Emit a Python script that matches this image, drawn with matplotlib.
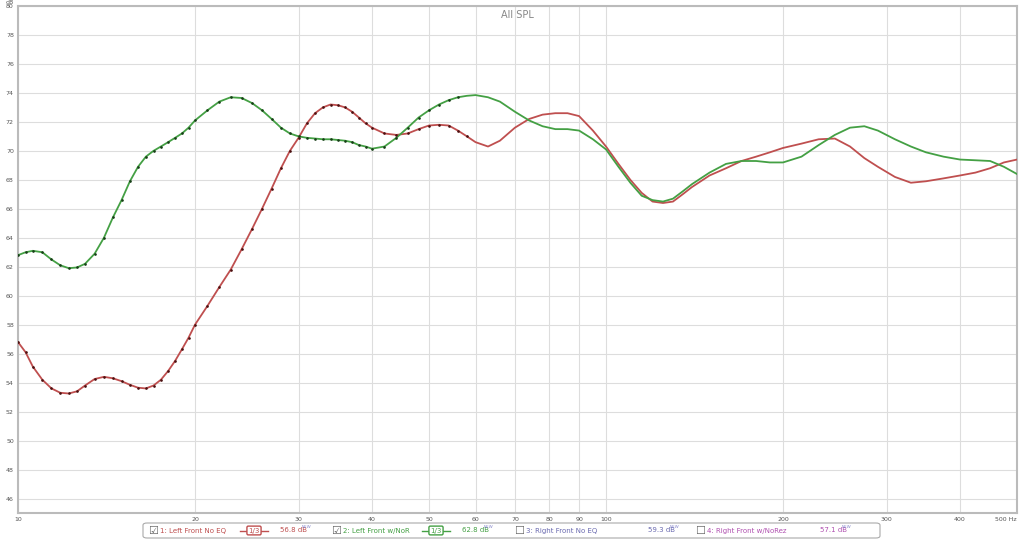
import numpy as np
import matplotlib
matplotlib.use("Agg")
import matplotlib.pyplot as plt
from matplotlib.patches import FancyBboxPatch
from matplotlib.lines import Line2D

# frequencies (Hz)
freq = [10, 10.3, 10.6, 11, 11.4, 11.8, 12.2, 12.6, 13, 13.5, 14, 14.5, 15, 15.5,
        16, 16.5, 17, 17.5, 18, 18.5, 19, 19.5, 20, 21, 22, 23, 24, 25, 26, 27,
        28, 29, 30, 31, 32, 33, 34, 35, 36, 37, 38, 39, 40, 42, 44, 46, 48, 50,
        52, 54, 56, 58, 60, 63, 66, 70, 74, 78, 82, 86, 90, 95, 100, 105, 110,
        115, 120, 125, 130, 135, 140, 150, 160, 170, 180, 190, 200, 215, 230,
        245, 260, 275, 290, 310, 330, 350, 375, 400, 425, 450, 475, 500]

left_no_eq = [56.8, 56.1, 55.1, 54.2, 53.6, 53.3, 53.25, 53.4, 53.8, 54.25, 54.4,
              54.3, 54.1, 53.85, 53.65, 53.6, 53.8, 54.2, 54.8, 55.5, 56.3, 57.1,
              58.0, 59.3, 60.6, 61.8, 63.2, 64.6, 66.0, 67.4, 68.8, 70.0, 70.9,
              71.9, 72.6, 73.0, 73.2, 73.15, 73.0, 72.7, 72.3, 71.9, 71.6, 71.2,
              71.1, 71.2, 71.5, 71.75, 71.8, 71.75, 71.4, 71.0, 70.6, 70.3, 70.7,
              71.6, 72.2, 72.5, 72.6, 72.6, 72.4, 71.4, 70.3, 69.1, 68.0, 67.1,
              66.5, 66.4, 66.5, 67.0, 67.5, 68.3, 68.8, 69.3, 69.6, 69.9, 70.2,
              70.5, 70.8, 70.85, 70.3, 69.5, 68.9, 68.2, 67.8, 67.9, 68.1, 68.3,
              68.5, 68.8, 69.2, 69.4]

left_w_nor = [62.8, 63.0, 63.1, 63.0, 62.5, 62.1, 61.9, 61.95, 62.2, 62.9, 64.0,
              65.4, 66.6, 67.9, 68.9, 69.6, 70.0, 70.3, 70.6, 70.9, 71.2, 71.6,
              72.1, 72.8, 73.4, 73.7, 73.65, 73.3, 72.8, 72.2, 71.6, 71.2, 71.0,
              70.9, 70.85, 70.8, 70.8, 70.75, 70.7, 70.6, 70.4, 70.3, 70.15, 70.3,
              70.9, 71.6, 72.3, 72.8, 73.2, 73.5, 73.7, 73.8, 73.85, 73.7, 73.4,
              72.7, 72.1, 71.7, 71.5, 71.5, 71.4, 70.8, 70.1, 68.9, 67.8, 66.9,
              66.6, 66.5, 66.7, 67.2, 67.7, 68.5, 69.1, 69.3, 69.3, 69.2, 69.2,
              69.6, 70.4, 71.1, 71.6, 71.7, 71.4, 70.8, 70.3, 69.9, 69.6, 69.4,
              69.35, 69.3, 68.9, 68.4]

x_ticks = [10, 20, 30, 40, 50, 60, 70, 80, 90, 100, 200, 300, 400, 500]
x_labels = ["10", "20", "30", "40", "50", "60", "70", "80", "90", "100",
            "200", "300", "400", "500 Hz"]
y_ticks = list(range(46, 81, 2))

legend_names = ["1: Left Front No EQ", "2: Left Front w/NoR",
                "3: Right Front No EQ", "4: Right Front w/NoRez"]
legend_levels = ["56.8 dB", "62.8 dB", "59.3 dB", "57.1 dB"]

red = "#bf4f4f"
green = "#44a044"

fig = plt.figure(figsize=(10.24, 5.4), dpi=100)
ax = fig.add_axes([18 / 1024, 1 - 513 / 540, 999 / 1024, 507 / 540])

f = np.array(freq)
ax.plot(f, left_no_eq, color=red, lw=1.3, zorder=3)
ax.plot(f, left_w_nor, color=green, lw=1.3, zorder=3)
# dotted look of the low end
ax.plot(f, left_no_eq, ls="none", marker=".", ms=1.8, color="#4a1010",
        markevery=list(np.where(f <= 58)[0]), zorder=4)
ax.plot(f, left_w_nor, ls="none", marker=".", ms=1.8, color="#173d17",
        markevery=list(np.where(f <= 56)[0]), zorder=4)

ax.set_xscale("log")
ax.set_xlim(10, 500)
ax.set_ylim(45, 80)
ax.set_xticks(x_ticks)
ax.set_xticklabels(x_labels)
ax.xaxis.set_minor_locator(matplotlib.ticker.NullLocator())
ax.get_xticklabels()[-1].set_horizontalalignment("right")
ax.set_yticks(y_ticks)
ax.tick_params(length=0, labelsize=4.5, colors="#555555", pad=3)
ax.grid(True, color="#dddddd", lw=0.8)
for s in ax.spines.values():
    s.set_color("#bbbbbb")
    s.set_linewidth(1.5)
ax.text(0.5, 0.992, "All SPL", transform=ax.transAxes, ha="center", va="top",
        fontsize=7, color="#888888")
fig.text(10 / 1024, 1 - 3 / 540, "dB", fontsize=4.5, color="#555555",
         ha="center", va="center")

# legend strip
box = FancyBboxPatch((143 / 1024, 1 - 538 / 540), 737 / 1024, 15 / 540,
                     boxstyle="round,pad=0,rounding_size=0.004",
                     transform=fig.transFigure, fc="white", ec="#aaaaaa", lw=0.8)
fig.add_artist(box)
yl = 1 - 530.5 / 540
cols = [red, green, "#6a6ab0", "#b050b0"]
checks = ["\u2611", "\u2611", "\u2610", "\u2610"]
xs_box = [148, 331, 514, 695]
xs_lvl = [280, 462, 648, 820]
for i in range(4):
    fig.text(xs_box[i] / 1024, yl, checks[i], fontsize=8, color="#666666",
             ha="left", va="center")
    fig.text((xs_box[i] + 12) / 1024, yl, legend_names[i], fontsize=5,
             color=cols[i], ha="left", va="center")
    fig.text(xs_lvl[i] / 1024, yl, legend_levels[i], fontsize=5,
             color=cols[i], ha="left", va="center")
    fig.text((xs_lvl[i] + 22) / 1024, yl + 4 / 540, "NEW", fontsize=3,
             color="#8888cc", ha="left", va="center")
for i, xc in enumerate([254, 436]):
    c = cols[i]
    fig.add_artist(Line2D([(xc - 14) / 1024, (xc + 14) / 1024], [yl, yl],
                          color=c, lw=1.0, transform=fig.transFigure))
    fig.text(xc / 1024, yl, "1/3", fontsize=5, color=c, ha="center",
             va="center", bbox=dict(boxstyle="round,pad=0.2", fc="white",
                                    ec=c, lw=1.0))

fig.savefig("out.png", dpi=100, facecolor="white")
